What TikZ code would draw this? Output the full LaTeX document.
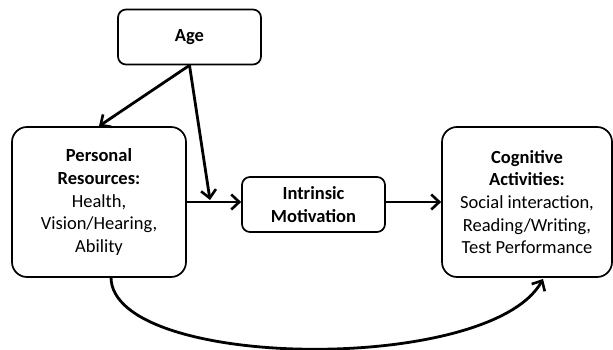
\documentclass[tikz,border=0pt]{standalone}
\usepackage{fontspec}
\setmainfont{Carlito}
\usetikzlibrary{arrows.meta}
\begin{document}
\begin{tikzpicture}[x=1pt,y=-1pt,
  box/.style={draw=black,line width=1.7pt,align=center,inner sep=0pt,
    font=\fontsize{18.5}{22.7}\selectfont},
  conn/.style={line width=2.8pt,-{Straight Barb[length=8pt,width=15pt,line width=2.6pt]}}]
\useasboundingbox (0,0) rectangle (613,350);
\node[box,rounded corners=8pt,minimum width=143pt,minimum height=55pt] (age) at (189.5,37) {\textbf{Age}};
\node[box,rounded corners=15pt,minimum width=174pt,minimum height=150pt] (pr) at (99,202)
  {\textbf{Personal}\\\textbf{Resources:}\\Health,\\Vision/Hearing,\\Ability};
\node[box,rounded corners=8pt,minimum width=143pt,minimum height=55pt] (im) at (313.5,204.5)
  {\textbf{Intrinsic}\\\textbf{Motivation}};
\node[box,rounded corners=15pt,minimum width=170pt,minimum height=150pt] (ca) at (527,202)
  {\textbf{Cognitive}\\\textbf{Activities:}\\Social interaction,\\Reading/Writing,\\Test Performance};
\coordinate (j) at (210,200);
\draw[conn] (age.south) -- (pr.north);
\draw[conn] (age.south) -- (j);
\draw[conn] (pr.east) -- (pr.east -| im.west);
\draw[conn] (im.east |- ca.west) -- (ca.west);
\draw[conn] (111,277) .. controls (111,370) and (490,375) .. (543,279);
\end{tikzpicture}
\end{document}
